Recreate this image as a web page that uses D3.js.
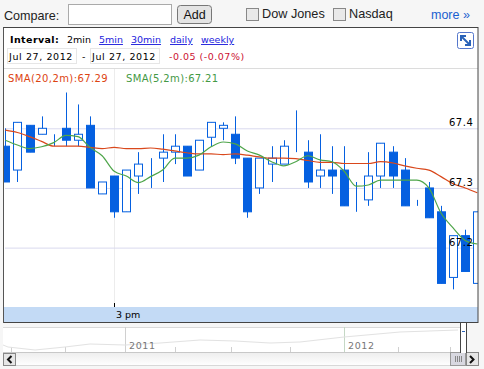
<!DOCTYPE html>
<html><head><meta charset="utf-8">
<script src="https://cdn.jsdelivr.net/npm/d3@7"></script>
<style>html,body{margin:0;padding:0;background:#fff}svg{display:block}text{white-space:pre}</style>
</head><body><svg id="c" width="484" height="369"></svg>
<script>
const opens =[67.37,67.33,67.405,67.39,67.39,67.40,67.38,67.405,67.29,67.32,67.26,67.32,67.35,67.35,67.36,67.37,67.33,67.385,67.40,67.39,67.35,67.30,67.34,67.34,67.38,67.36,67.32,67.33,67.33,67.28,67.28,67.32,67.36,67.33,67.28,67.30,67.26,67.15,67.22,67.14];
const closes=[67.31,67.41,67.36,67.40,67.39,67.38,67.39,67.30,67.31,67.26,67.33,67.34,67.35,67.36,67.37,67.32,67.38,67.41,67.405,67.35,67.26,67.35,67.35,67.37,67.38,67.31,67.33,67.32,67.27,67.28,67.32,67.375,67.32,67.27,67.28,67.25,67.14,67.22,67.16,67.26];
const highs =[67.40,67.41,67.405,67.42,67.39,67.46,67.44,67.42,67.31,67.32,67.33,67.36,67.35,67.39,67.39,67.37,67.38,67.41,67.41,67.42,67.35,67.35,67.37,67.38,67.43,67.38,67.39,67.37,67.37,67.31,67.36,67.375,67.37,67.35,67.28,67.31,67.27,67.22,67.23,67.26];
const lows  =[67.31,67.31,67.36,67.39,67.37,67.37,67.37,67.30,67.29,67.25,67.26,67.29,67.30,67.31,67.34,67.32,67.33,67.37,67.38,67.34,67.25,67.29,67.31,67.34,67.36,67.30,67.30,67.29,67.27,67.26,67.27,67.30,67.30,67.27,67.27,67.25,67.14,67.13,67.16,67.14];
const sma20=[67.397,67.393,67.386,67.378,67.370,67.370,67.370,67.368,67.366,67.368,67.366,67.366,67.367,67.365,67.362,67.359,67.357,67.357,67.356,67.357,67.355,67.352,67.350,67.350,67.349,67.346,67.343,67.343,67.341,67.341,67.341,67.344,67.342,67.337,67.333,67.330,67.319,67.307,67.300,67.292];
const sma5 =[67.380,67.372,67.366,67.369,67.376,67.388,67.386,67.368,67.354,67.328,67.320,67.309,67.319,67.330,67.350,67.350,67.355,67.369,67.377,67.374,67.362,67.355,67.344,67.337,67.344,67.354,67.347,67.344,67.328,67.303,67.305,67.313,67.313,67.313,67.313,67.300,67.258,67.233,67.212,67.206];
const priceTicks=[67.2,67.3,67.4];
const overview=[[3,345],[8,347],[35,350],[65,347],[90,344],[125,345],[160,343],[200,340],[235,341],[270,343],[300,342],[344,337],[400,332],[458,330]];
const yearLabels=[["2011",125],["2012",344]];
const minorTicks=[11,65,175,231,290,398,450];
const links=[["2min",false],["5min",true],["30min",true],["daily",true],["weekly",true]];

const svg=d3.select("#c");
const SANS="'Liberation Sans',Arial,sans-serif", VER="'DejaVu Sans',Verdana,sans-serif";
const BLUE="#0560e0";
function T(g,x,y,s,o={}){return g.append("text").attr("x",x).attr("y",y).text(s)
  .attr("font-family",o.f||VER).attr("font-size",o.s||10).attr("fill",o.c||"#000")
  .attr("font-weight",o.w||null).attr("text-anchor",o.a||null).attr("text-decoration",o.d||null).attr("letter-spacing",o.ls||null);}
function R(g,x,y,w,h,fill,stroke){return g.append("rect").attr("x",x).attr("y",y).attr("width",w).attr("height",h).attr("fill",fill).attr("stroke",stroke||"none");}
function L(g,a,b,c,d,col){return g.append("line").attr("x1",a).attr("y1",b).attr("x2",c).attr("y2",d).attr("stroke",col);}

R(svg,0,0,484,369,"#f6f6f6");
// top bar
T(svg,4,19.5,"Compare:",{f:SANS,s:12.6,c:"#222"});
R(svg,68.5,4.5,103,20,"#fff","#aaa");
R(svg,177.5,5.5,34,18,"#e4e4e4","#777").attr("rx",3);
T(svg,194.5,19,"Add",{f:SANS,s:12.5,a:"middle",c:"#111"});
R(svg,246.5,8.5,12,12,"#e9e9e9","#888");
T(svg,262,17.5,"Dow Jones",{f:SANS,s:12.7,c:"#222"});
R(svg,333.5,8.5,12,12,"#e9e9e9","#888");
T(svg,349,17.5,"Nasdaq",{f:SANS,s:12.7,c:"#222"});
T(svg,431,18.5,"more »",{f:SANS,s:12.5,c:"#1a5fd0"});

// main frame
R(svg,3.5,27.5,474.5,295,"#fff");
const x=d3.scaleLinear().domain([0,39]).range([5.3,477.3]);
const y=d3.scaleLinear().domain([67.2,67.4]).range([247.6,128.3]);
const clip=svg.append("defs").append("clipPath").attr("id","pl").append("rect").attr("x",4).attr("y",69).attr("width",474).attr("height",238);
L(svg,4,68.5,478,68.5,"#dcdcdc");
L(svg,114.5,69,114.5,303,"#ececec");
const axis=svg.append("g").attr("transform","translate(5,0)").call(d3.axisRight(y).tickValues(priceTicks).tickSize(473).tickFormat(d3.format(".1f")));
axis.select(".domain").remove();
axis.selectAll("line").attr("stroke","#d9d9ee");
axis.selectAll("text").remove();

const plot=svg.append("g").attr("clip-path","url(#pl)");
const idx=d3.range(opens.length), bw=9;
plot.selectAll("line.w").data(idx).join("line").attr("class","w")
  .attr("x1",i=>Math.round(x(i))+.5).attr("x2",i=>Math.round(x(i))+.5)
  .attr("y1",i=>y(highs[i])).attr("y2",i=>y(lows[i])).attr("stroke",BLUE).attr("stroke-width",1);
plot.selectAll("rect.b").data(idx).join("rect").attr("class","b")
  .attr("x",i=>Math.round(x(i))-3.5).attr("width",bw-1)
  .attr("y",i=>y(Math.max(opens[i],closes[i]))).attr("height",i=>Math.abs(y(opens[i])-y(closes[i])))
  .attr("fill",i=>closes[i]<opens[i]?BLUE:"#fff").attr("stroke",BLUE);
const line=d3.line().x((d,i)=>x(i)).y(d=>y(d)).curve(d3.curveMonotoneX);
plot.append("path").attr("d",line(sma20)).attr("fill","none").attr("stroke","#d9481c").attr("stroke-width",1.2);
plot.append("path").attr("d",line(sma5)).attr("fill","none").attr("stroke","#4ea54a").attr("stroke-width",1.2);
svg.selectAll("text.p").data(priceTicks).join("text").attr("class","p")
  .attr("x",449).attr("y",d=>y(d)-2).attr("letter-spacing",.5).text(d3.format(".1f"))
  .attr("font-family",VER).attr("font-size",10).attr("fill","#000");

// header in chart
T(svg,10,43,"Interval:",{s:9.5,w:"bold",ls:.4});
let lx=[67,99,131,170,201];
links.forEach((l,i)=>T(svg,lx[i],43,l[0],{s:9.5,c:l[1]?"#2222dd":"#000",d:l[1]?"underline":null}));
R(svg,7.5,48.5,69,15,"#fff","#e6e6e6");
T(svg,9,60,"Jul 27, 2012",{s:9.5,ls:.6});
T(svg,82,60,"-",{s:9.5});
R(svg,90.5,48.5,69,15,"#fff","#e6e6e6");
T(svg,92,60,"Jul 27, 2012",{s:9.5,ls:.6});
T(svg,169,60,"-0.05 (-0.07%)",{s:9.5,c:"#cc1133",ls:.5});
T(svg,8,82,"SMA(20,2m):67.29",{s:10,c:"#dd4411",ls:.4});
T(svg,126,82,"SMA(5,2m):67.21",{s:10,c:"#449944",ls:.35});
R(svg,457.5,32.5,16,16,"#fff","#5577cc").attr("rx",2);
svg.append("g").attr("stroke","#2a62b8").attr("stroke-width",2).attr("fill","none").call(g=>{
  L(g,461,36,470,45,"#2a62b8");
  g.append("path").attr("d","M461 41V36H466M470 40V45H465");
});

// time band
R(svg,4,307,474,15,"#c3daf5");
L(svg,114.5,303,114.5,307,"#000");
T(svg,116,318,"3 pm",{s:9.5,a:null});
R(svg,3,27,475,296,"none","#444").attr("x",3.5).attr("y",27.5).attr("width",474.5).attr("height",295);
L(svg,3.5,27.5,3.5,323,"#555");

// overview
R(svg,3,327,457,25,"#fff");
L(svg,3,327.5,460,327.5,"#dadada");
L(svg,3,352.5,460,352.5,"#c8c8c8");
L(svg,125.5,327,125.5,352,"#d0d0d0");
L(svg,344.5,327,344.5,352,"#c5d8c5");
minorTicks.forEach(t=>L(svg,t+.5,347,t+.5,352,"#d0d0d0"));
svg.append("path").attr("d",d3.line()(overview)).attr("fill","none").attr("stroke","#e2e2e2");
yearLabels.forEach(d=>T(svg,d[1]+4,349,d[0],{s:9.5,c:"#777",ls:.6}));
// scrollbar
const sb=svg.append("defs").append("linearGradient").attr("id","sg").attr("x1",0).attr("x2",0).attr("y1",0).attr("y2",1);
sb.append("stop").attr("offset",0).attr("stop-color","#eeeeee");
sb.append("stop").attr("offset",1).attr("stop-color","#ffffff");
R(svg,3,353,476,13,"url(#sg)");
L(svg,3,365.5,479,365.5,"#d8d8d8");
R(svg,3,353,13,13,"#e6e6e6","#888").attr("x",3.5).attr("y",353.5).attr("width",12).attr("height",12);
svg.append("path").attr("d","M11.5 356L8 359.5L11.5 363").attr("fill","none").attr("stroke","#111").attr("stroke-width",2);
R(svg,451,353,14,13,"#d8d8e0","#999").attr("x",450.5).attr("y",352.5).attr("width",15).attr("height",13);
[455,457,459,461].forEach(v=>L(svg,v+.5,356,v+.5,362,"#888"));
R(svg,466,353,13,13,"#e6e6e6","#888").attr("x",466.5).attr("y",352.5).attr("width",12).attr("height",13);
svg.append("path").attr("d","M470 356L473.5 359.5L470 363").attr("fill","none").attr("stroke","#111").attr("stroke-width",2);
// slider handle
R(svg,461,323,5,30,"#fff");
L(svg,460.5,323,460.5,353,"#444");
L(svg,466.5,323,466.5,353,"#444");
L(svg,462,331.5,465,331.5,"#2a62b8");
</script></body></html>
